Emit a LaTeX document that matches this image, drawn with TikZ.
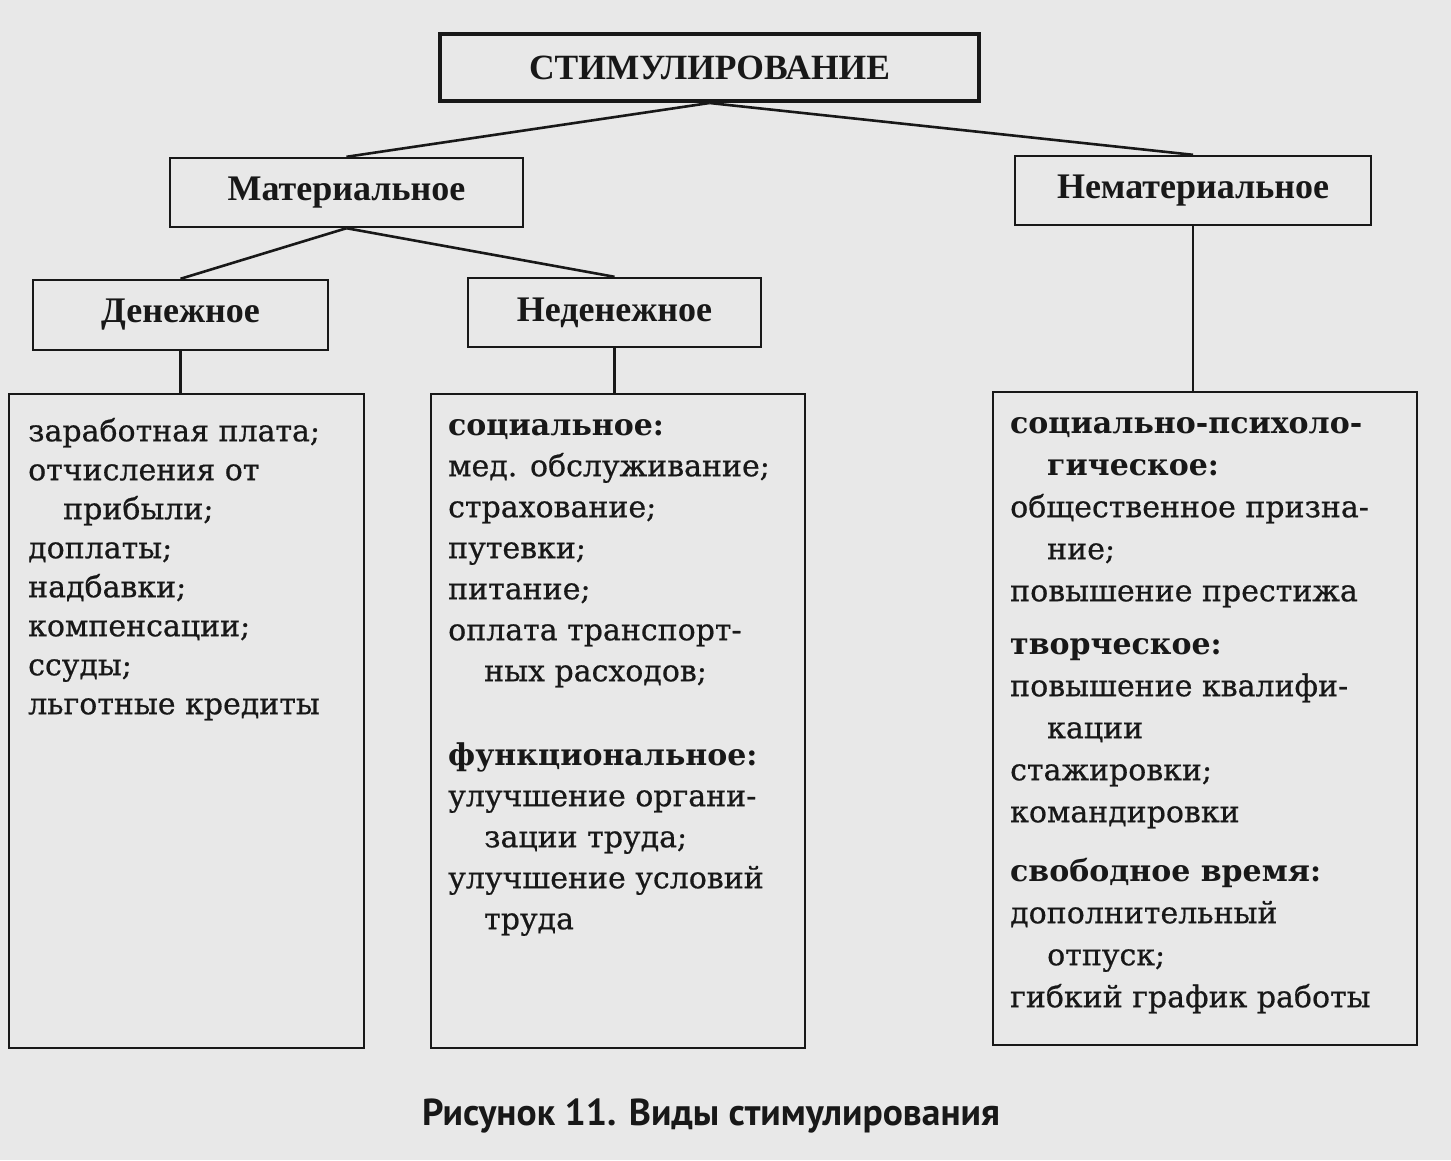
\documentclass[tikz,border=0pt]{standalone}
\usepackage{fontspec}
\setmainfont{DejaVu Serif}[UprightFeatures = {FakeBold = 0.6}]
\newfontfamily\headfont{Liberation Serif}
\newfontfamily\capfont{PT Sans}
\usepackage{xcolor}
\usepackage{tikz}
\usetikzlibrary{positioning}
\definecolor{paper}{RGB}{232,232,232}
\definecolor{ink}{RGB}{24,24,24}

\begin{document}
\begin{tikzpicture}[x = 1pt, y = -1pt,
    box/.style = {draw = ink, line width = 2.4pt, inner sep = 0pt, text = ink,
                  font = \headfont\bfseries\fontsize{36}{40}\selectfont},
    listbox/.style = {draw = ink, line width = 2.2pt, inner sep = 0pt, anchor = north west},
    items/.style = {anchor = north west, inner sep = 0pt, align = left, text = ink},
    link/.style = {draw = ink, line width = 2.6pt}]
    \fill[paper] (0,0) rectangle (1451,1160);
    \useasboundingbox (0,0) rectangle (1451,1160);
    % upper levels
    \node[box, line width = 4pt, minimum width = 539, minimum height = 67,
          font = \headfont\bfseries\fontsize{35.5}{40}\selectfont] (stim) at (709.5,67.5) {СТИМУЛИРОВАНИЕ};
    \node[box, minimum width = 353, minimum height = 69] (mat) at (346.5,192.5) {Материальное};
    \node[box, minimum width = 356, minimum height = 69] (nemat) at (1193,190.5) {Нематериальное};
    \node[box, minimum width = 295, minimum height = 70] (den) at (180.5,315) {Денежное};
    \node[box, minimum width = 293, minimum height = 69] (neden) at (614.5,312.5) {Неденежное};
    % lists
    \node[listbox, minimum width = 355, minimum height = 654] (denlist) at (8,393) {};
    \node[listbox, minimum width = 374, minimum height = 654] (nedenlist) at (430,393) {};
    \node[listbox, minimum width = 424, minimum height = 653] (nematlist) at (992,391) {};
    \node[items, font = \fontsize{30}{39}\selectfont] (denitems) at (28,413.7)
        {\strut заработная плата;\\
         отчисления от\\
         \hspace*{35pt}прибыли;\\
         доплаты;\\
         надбавки;\\
         компенсации;\\
         ссуды;\\
         льготные кредиты};
    \node[items, font = \fontsize{30}{41}\selectfont] (nedenitems) at (448,406.3)
        {\strut\textbf{социальное:}\\
         мед. обслуживание;\\
         страхование;\\
         путевки;\\
         питание;\\
         оплата транспорт-\\
         \hspace*{36pt}ных расходов;\\[43pt]
         \textbf{функциональное:}\\
         улучшение органи-\\
         \hspace*{36pt}зации труда;\\
         улучшение условий\\
         \hspace*{36pt}труда};
    \node[items, font = \fontsize{30}{42}\selectfont] (nematitems) at (1010,403.6)
        {\strut\textbf{социально-психоло-}\\
         \hspace*{37pt}\textbf{гическое:}\\
         общественное призна-\\
         \hspace*{37pt}ние;\\
         повышение престижа\\[11pt]
         \textbf{творческое:}\\
         повышение квалифи-\\
         \hspace*{37pt}кации\\
         стажировки;\\
         командировки\\[17pt]
         \textbf{свободное время:}\\
         дополнительный\\
         \hspace*{37pt}отпуск;\\
         гибкий график работы};
    % caption
    \node[anchor = base, text = ink, font = \capfont\bfseries\fontsize{37.5}{42}\selectfont] (caption)
        at (711,1125) {Рисунок 11. Виды стимулирования};
    % connectors
    \draw[link] (stim.south) -- (mat.north);
    \draw[link] (stim.south) -- (nemat.north);
    \draw[link] (mat.south) -- (den.north);
    \draw[link] (mat.south) -- (neden.north);
    \draw[link] (den.south) -- (den.south |- denlist.north);
    \draw[link] (neden.south) -- (neden.south |- nedenlist.north);
    \draw[link] (nemat.south) -- (nemat.south |- nematlist.north);
\end{tikzpicture}
\end{document}
